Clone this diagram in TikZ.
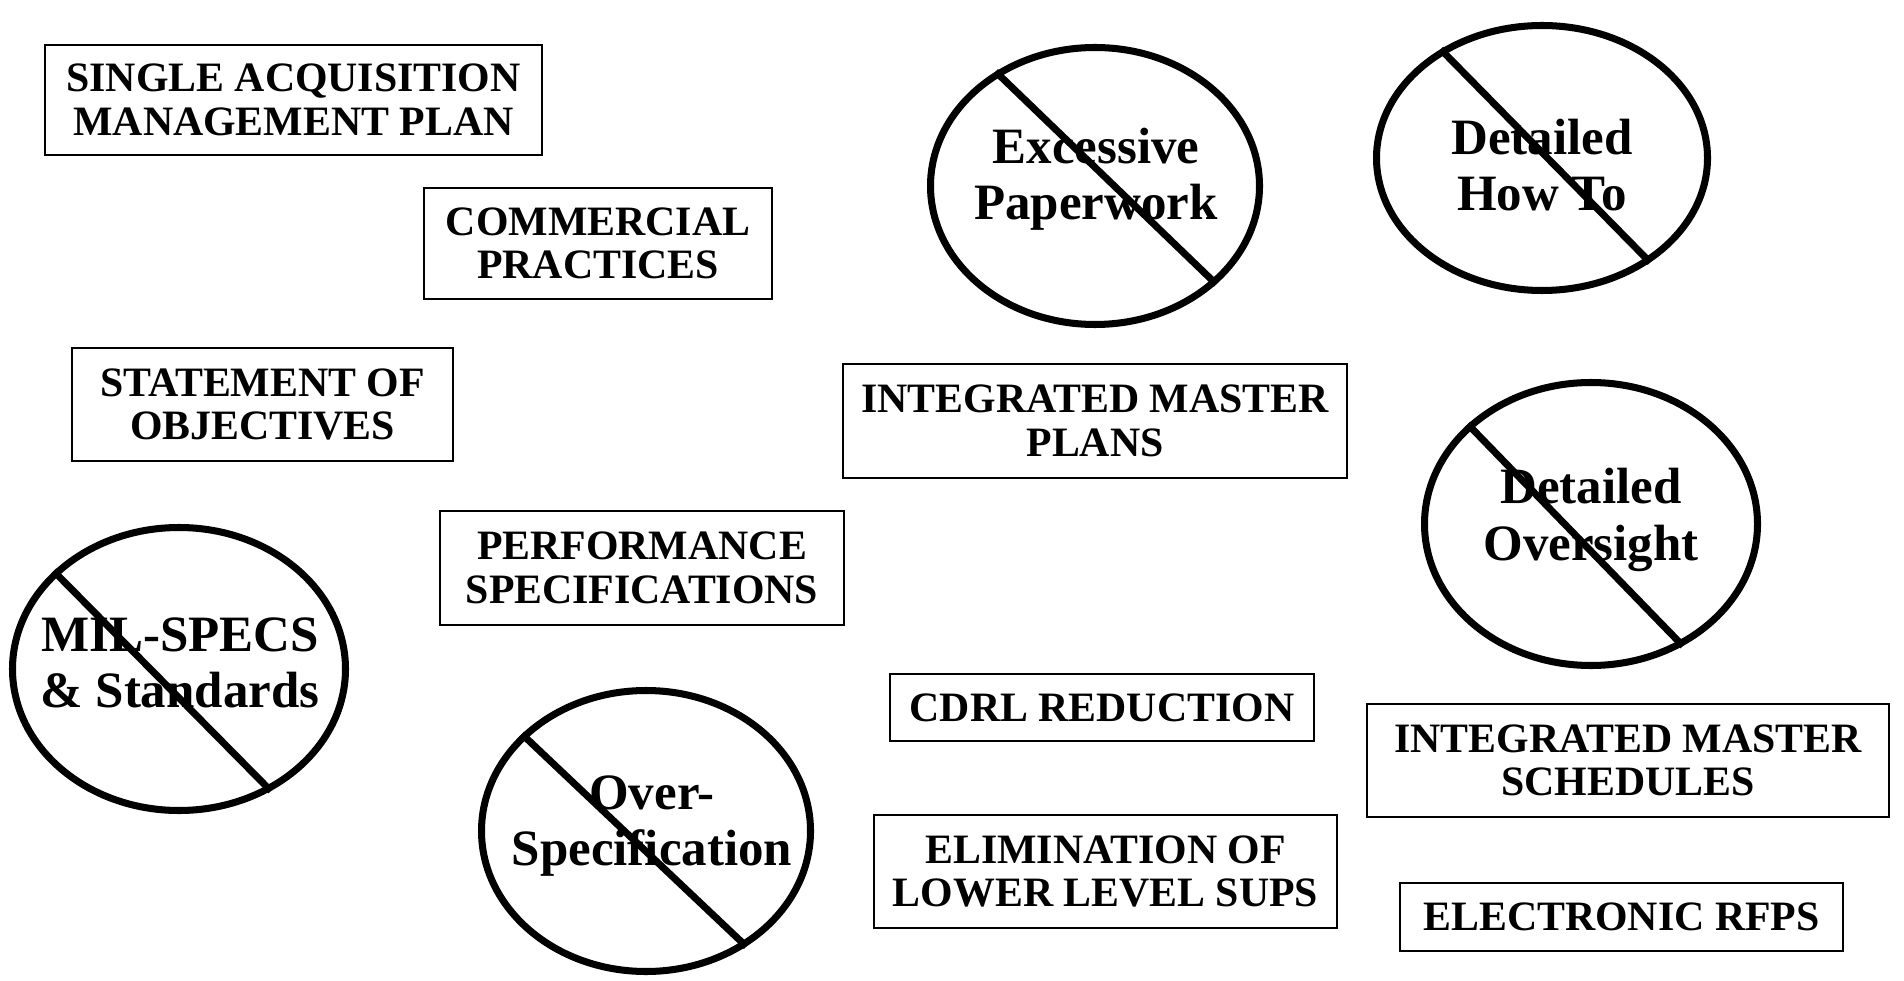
\documentclass[tikz,border=0pt]{standalone}
\usepackage{fontspec}
\setmainfont{Liberation Serif}
\usetikzlibrary{shapes.geometric}
\begin{document}
\begin{tikzpicture}[x=0.1mm,y=-0.1mm,
  bx/.style={draw, line width=0.75pt, inner sep=0pt, align=center, font=\bfseries\fontsize{11.9}{12.4}\selectfont},
  nogo/.style={draw, ellipse, line width=2pt, inner sep=0pt},
  nolabel/.style={align=center, inner sep=0pt, font=\bfseries\fontsize{14.5}{16}\selectfont},
  slash/.style={line width=2pt}]
\useasboundingbox[fill=white] (0,0) rectangle (1904,981);

% boxes
\node[bx, minimum width=49.7mm, minimum height=11mm] (samp) at (293.5,100) {SINGLE ACQUISITION\\MANAGEMENT PLAN};
\node[bx, minimum width=34.8mm, minimum height=11.1mm] (comm) at (598,243.5) {COMMERCIAL\\PRACTICES};
\node[bx, minimum width=38.1mm, minimum height=11.3mm] (soo) at (262.5,404.5) {STATEMENT OF\\OBJECTIVES};
\node[bx, minimum width=40.4mm, minimum height=11.4mm] (perf) at (642,568) {PERFORMANCE\\SPECIFICATIONS};
\node[bx, minimum width=50.4mm, minimum height=11.4mm] (imp) at (1095,421) {INTEGRATED MASTER\\PLANS};
\node[bx, minimum width=42.4mm, minimum height=6.7mm] (cdrl) at (1102,707.5) {CDRL REDUCTION};
\node[bx, minimum width=46.3mm, minimum height=11.3mm] (elim) at (1105.5,871.5) {ELIMINATION OF\\LOWER LEVEL SUPS};
\node[bx, minimum width=52.2mm, minimum height=11.3mm] (ims) at (1628,760.5) {INTEGRATED MASTER\\SCHEDULES};
\node[bx, minimum width=44.3mm, minimum height=6.8mm] (rfp) at (1621.5,917) {ELECTRONIC RFPS};

% prohibited items
\node[nogo, minimum width=32.9mm, minimum height=27.7mm] (e1) at (1095,186) {};
\node[nolabel] (t1) at (1096,179) {Excessive\\Paperwork};
\draw[slash] (e1.131) -- (e1.-39);

\node[nogo, minimum width=33.1mm, minimum height=26.5mm] (e2) at (1542,158) {};
\node[nolabel] (t2) at (1542,165) {Detailed\\How To};
\draw[slash] (e2.133) -- (e2.-44);

\node[nogo, minimum width=33.3mm, minimum height=28.3mm] (e3) at (1591,524) {};
\node[nolabel] (t3) at (1591,520) {Detailed\\Oversight};
\draw[slash] (e3.141) -- (e3.-53);

\node[nogo, minimum width=33.3mm, minimum height=28.3mm] (e4) at (179,669) {};
\node[nolabel] (t4) at (180,663) {MIL-SPECS\\\& Standards};
\draw[slash] (e4.142) -- (e4.-53);

\node[nogo, minimum width=32.9mm, minimum height=28.1mm] (e5) at (646,831) {};
\node[nolabel] (t5) at (652,826) {Over-\\Specification};
\draw[slash] (e5.142) -- (e5.-49);
\end{tikzpicture}
\end{document}
